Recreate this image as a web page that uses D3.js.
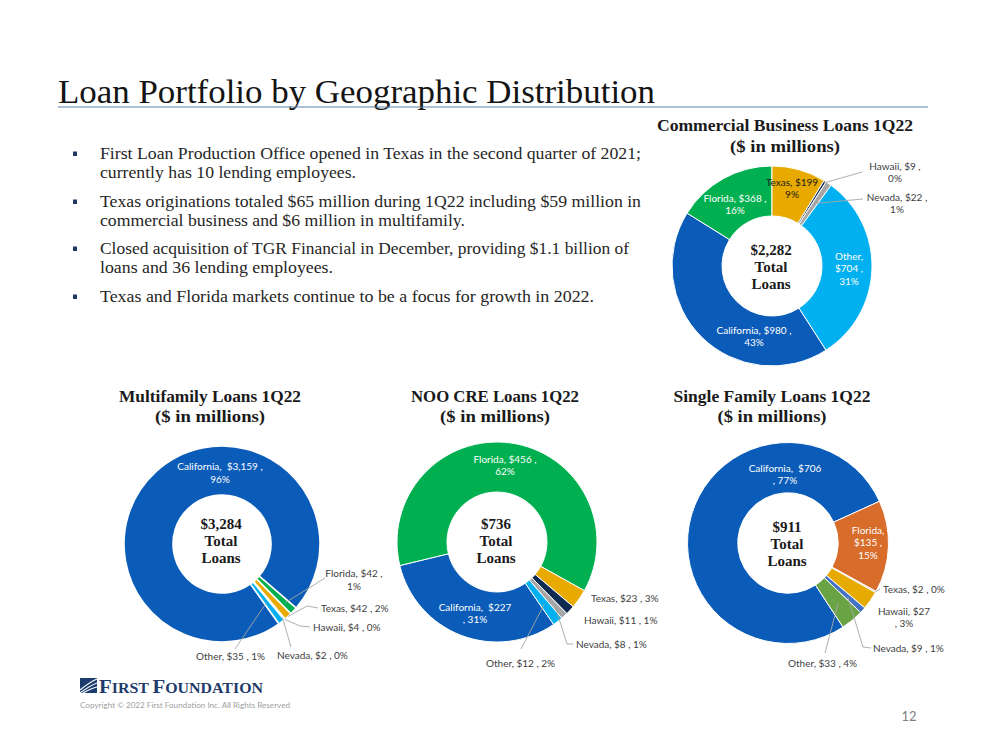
<!DOCTYPE html>
<html><head><meta charset="utf-8">
<script src="https://cdn.jsdelivr.net/npm/d3@7"></script>
<style>body{margin:0;background:#fff} svg{display:block} text{white-space:pre}</style>
</head><body>
<svg id="c" width="999" height="750"></svg>
<script>
// ---------------- DATA ----------------
const regions = ["California","Florida","Texas","Hawaii","Nevada","Other"];
const commercialValues = [980, 368, 199, 9, 22, 704];
const commercialPct    = [43, 16, 9, 0, 1, 31];
const multifamilyValues = [3159, 42, 42, 4, 2, 35];
const multifamilyPct    = [96, 1, 2, 0, 0, 1];
const nooValues = [227, 456, 23, 11, 8, 12];
const nooPct    = [31, 62, 3, 1, 1, 2];
const singleValues = [706, 135, 2, 27, 9, 33];
const singlePct    = [77, 15, 0, 3, 1, 4];
const totals = ["$2,282", "$3,284", "$736", "$911"];
const chartTitles = ["Commercial Business Loans 1Q22", "Multifamily Loans 1Q22", "NOO CRE Loans 1Q22", "Single Family Loans 1Q22"];
const subTitle = "($ in millions)";
const centerWords = ["Total", "Loans"];
const pageTitle = "Loan Portfolio by Geographic Distribution";
const bullets = [
  ["First Loan Production Office opened in Texas in the second quarter of 2021;", "currently has 10 lending employees."],
  ["Texas originations totaled $65 million during 1Q22 including $59 million in", "commercial business and $6 million in multifamily."],
  ["Closed acquisition of TGR Financial in December, providing $1.1 billion of", "loans and 36 lending employees."],
  ["Texas and Florida markets continue to be a focus for growth in 2022."]
];
const copyright = "Copyright \u00A9 2022 First Foundation Inc. All Rights Reserved";
const pageNumber = "12";

// ---------------- STYLE / LAYOUT ----------------
const stdColors = {California:"#0b5cb8", Florida:"#00b050", Texas:"#e9aa00", Hawaii:"#0f2b52", Nevada:"#a6a6a6", Other:"#00b0f0"};
const sfColors  = {California:"#0b5cb8", Florida:"#d86c2a", Texas:"#a5a5a5", Hawaii:"#e6aa00", Nevada:"#4472c4", Other:"#69a343"};
const T_A = ["{n}, ${v} ,", "{p}%"];
const T_B = ["{n}, ${v} , {p}%"];
const T_C = ["{n},  ${v}", ", {p}%"];
const T_D = ["{n},", "${v} ,", "{p}%"];
const T_E = ["{n}, ${v}", "{p}%"];
const T_F = ["{n},  ${v} ,", "{p}%"];
const T_G = ["{n}, ${v}", ", {p}%"];
const DARK = "#404040", WHITE = "#ffffff";

const layouts = [
  {cx:772, cy:266, r:100, rot:147.3, sw:1, colors:stdColors, tx:785, ty:[131,151.5], tw:[256,110], cty:[254.5,271.5,288.5], lh:12.8,
   labels:[
    {x:754,y:330,a:"middle",t:T_A,c:WHITE},
    {x:735,y:198,a:"middle",t:T_A,c:WHITE},
    {x:792,y:182,a:"middle",t:T_E,c:"#1a1a1a"},
    {x:895,y:166,a:"middle",t:T_A,c:DARK,lead:[[862,172]],lr:0.98},
    {x:897,y:197,a:"middle",t:T_A,c:DARK,lead:[[863,199]],lr:0.76},
    {x:849,y:256,a:"middle",t:T_D,c:WHITE}
   ]},
  {cx:222, cy:544, r:98, rot:144.5, sw:1.6, colors:stdColors, tx:210, ty:[401.5,422], tw:[182,110], cty:[529,546,563], lh:13,
   labels:[
    {x:220,y:466,a:"middle",t:T_F,c:WHITE},
    {x:354,y:573,a:"middle",t:T_A,c:DARK,lead:[[325,578]],lr:0.88},
    {x:321,y:608,a:"start",t:T_B,c:DARK,lead:[[318,608],[307,606]],lr:1.0},
    {x:313,y:627,a:"start",t:T_B,c:DARK,lead:[[310,627],[300,626]],lr:1.0},
    {x:277,y:655,a:"start",t:T_B,c:DARK,lead:[[291,647]],lr:0.97},
    {x:196,y:656,a:"start",t:T_B,c:DARK,lead:[[235,649]],lr:0.75}
   ]},
  {cx:497, cy:542, r:100, rot:145.5, sw:1, colors:stdColors, tx:495, ty:[401.5,422], tw:[168,110], cty:[529,546,563], lh:12.8,
   labels:[
    {x:475,y:607,a:"middle",t:T_C,c:WHITE},
    {x:505,y:459,a:"middle",t:T_A,c:WHITE},
    {x:591,y:598,a:"start",t:T_B,c:DARK},
    {x:584,y:620,a:"start",t:T_B,c:DARK},
    {x:576,y:644,a:"start",t:T_B,c:DARK,lead:[[573,644],[567,644]],lr:0.86},
    {x:486,y:663,a:"start",t:T_B,c:DARK,lead:[[521,649]],lr:0.78}
   ]},
  {cx:788, cy:543, r:100.5, rot:146.8, sw:1, colors:sfColors, tx:772, ty:[401.5,422], tw:[197,109], cty:[531.5,548.5,565.5], lh:12.5,
   labels:[
    {x:785,y:468,a:"middle",t:T_C,c:WHITE},
    {x:868,y:530,a:"middle",t:T_D,c:WHITE},
    {x:883,y:589,a:"start",t:T_B,c:DARK,lead:[[880,589]],lr:1.0},
    {x:904,y:611,a:"middle",t:T_G,c:DARK},
    {x:873,y:648,a:"start",t:T_B,c:DARK,lead:[[871,648],[863,647]],lr:0.8},
    {x:788,y:663,a:"start",t:T_B,c:DARK,lead:[[825,653]],lr:0.78}
   ]}
];

const chartData = [
  {values:commercialValues, pct:commercialPct},
  {values:multifamilyValues, pct:multifamilyPct},
  {values:nooValues, pct:nooPct},
  {values:singleValues, pct:singlePct}
];

const SERIF = "'Liberation Serif', 'Times New Roman', serif";
const SANS = "Lato, 'Open Sans', sans-serif";
const fmt = d3.format(",");
const svg = d3.select("#c");

// ---------------- PAGE TITLE ----------------
svg.append("text").attr("x", 58).attr("y", 103)
  .attr("font-family", SERIF).attr("font-size", 33).attr("fill", "#141414")
  .attr("textLength", 597).attr("lengthAdjust", "spacingAndGlyphs")
  .text(pageTitle);
svg.append("line").attr("x1", 58).attr("x2", 928).attr("y1", 107).attr("y2", 107)
  .attr("stroke", "#5b80a8").attr("stroke-width", 1.2);

// ---------------- BULLETS ----------------
const bulletBase = [[159,178],[207,226],[254,273],[302]];
const lineWidths = [[541,256],[541,365],[529,233],[494]];
bullets.forEach((lines, bi) => {
  svg.append("rect").attr("x", 73).attr("y", bulletBase[bi][0] - 7.5).attr("width", 4).attr("height", 4.5).attr("fill", "#1f3864");
  lines.forEach((ln, li) => {
    svg.append("text").attr("x", 100).attr("y", bulletBase[bi][li])
      .attr("font-family", SERIF).attr("font-size", 16).attr("fill", "#262626")
      .attr("textLength", lineWidths[bi][li]).attr("lengthAdjust", "spacingAndGlyphs")
      .text(ln);
  });
});

// ---------------- DONUTS ----------------
chartData.forEach((cd, ci) => {
  const L = layouts[ci];
  const g = svg.append("g");
  const rot = L.rot * Math.PI / 180;
  const pie = d3.pie().sort(null).value(d => d.v).startAngle(rot).endAngle(rot + 2 * Math.PI);
  const items = regions.map((n, i) => ({n, v: cd.values[i], p: cd.pct[i], i}));
  const arcs = pie(items);
  const arc = d3.arc().innerRadius(L.r * 0.5).outerRadius(L.r);

  g.selectAll("path.slice").data(arcs).join("path")
    .attr("class", "slice")
    .attr("transform", `translate(${L.cx},${L.cy})`)
    .attr("d", arc)
    .attr("fill", d => L.colors[d.data.n])
    .attr("stroke", "#fff").attr("stroke-width", L.sw).attr("stroke-linejoin", "round");

  // titles
  [chartTitles[ci], subTitle].forEach((t, k) => {
    g.append("text").attr("x", L.tx).attr("y", L.ty[k]).attr("text-anchor", "middle")
      .attr("font-family", SERIF).attr("font-weight", "bold").attr("font-size", 16).attr("fill", "#1a1a1a")
      .attr("textLength", L.tw[k]).attr("lengthAdjust", "spacingAndGlyphs")
      .text(t);
  });

  // center text
  [totals[ci]].concat(centerWords).forEach((t, k) => {
    g.append("text").attr("x", L.cx - 1).attr("y", L.cty[k]).attr("text-anchor", "middle")
      .attr("font-family", SERIF).attr("font-weight", "bold").attr("font-size", 15).attr("fill", "#1a1a1a")
      .text(t);
  });

  // leaders
  arcs.forEach((a, i) => {
    const lab = L.labels[i];
    if (!lab.lead) return;
    const mid = (a.startAngle + a.endAngle) / 2;
    const rr = L.r * lab.lr;
    const end = [L.cx + rr * Math.sin(mid), L.cy - rr * Math.cos(mid)];
    const pts = lab.lead.concat([end]);
    g.append("path").attr("d", d3.line()(pts))
      .attr("fill", "none").attr("stroke", "#a6a6a6").attr("stroke-width", 0.9);
  });

  // labels
  arcs.forEach((a, i) => {
    const lab = L.labels[i];
    const d = a.data;
    const t = g.append("text").attr("text-anchor", lab.a)
      .attr("font-family", SANS).attr("font-size", 10).attr("fill", lab.c);
    lab.t.forEach((tmpl, k) => {
      const s = tmpl.replace("{n}", d.n).replace("{v}", fmt(d.v)).replace("{p}", d.p);
      t.append("tspan").attr("x", lab.x).attr("y", lab.y + k * L.lh + 3.5).text(s);
    });
  });
});

// ---------------- FOOTER ----------------
const logo = svg.append("g");
logo.append("rect").attr("x", 80).attr("y", 678).attr("width", 17).attr("height", 15).attr("fill", "#1d3c6e");
[[80,690,90,682,97,679],[80,693,91,685,97,683],[83,693,92,688,97,687]].forEach(p => {
  logo.append("path").attr("d", `M${p[0]},${p[1]} Q${p[2]},${p[3]} ${p[4]},${p[5]}`)
    .attr("fill", "none").attr("stroke", "#fff").attr("stroke-width", 1.1);
});
const lt = logo.append("text").attr("x", 99).attr("y", 693)
  .attr("font-family", SERIF).attr("font-weight", "bold").attr("fill", "#1f3b6b")
  .attr("textLength", 164).attr("lengthAdjust", "spacingAndGlyphs");
[["F",19],["IRST ",14.5],["F",19],["OUNDATION",14.5]].forEach(s => lt.append("tspan").attr("font-size", s[1]).text(s[0]));

svg.append("text").attr("x", 80).attr("y", 708)
  .attr("font-family", SANS).attr("font-size", 7.5).attr("fill", "#a0a0a0")
  .attr("textLength", 210).attr("lengthAdjust", "spacingAndGlyphs")
  .text(copyright);
svg.append("text").attr("x", 909).attr("y", 721).attr("text-anchor", "middle")
  .attr("font-family", SANS).attr("font-size", 13).attr("fill", "#808080")
  .text(pageNumber);
</script>
</body></html>
